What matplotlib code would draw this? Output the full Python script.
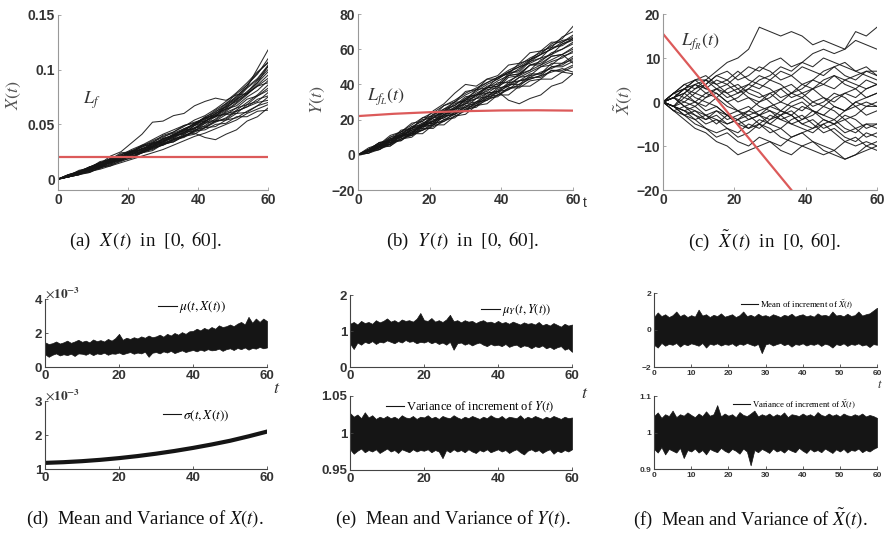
import matplotlib
matplotlib.use("Agg")
import matplotlib.pyplot as plt

plt.rcParams["mathtext.fontset"] = "stix"

# time grids
t_path = [0, 3, 6, 9, 12, 15, 18, 21, 24, 27, 30, 33, 36, 39, 42, 45, 48, 51, 54, 57, 60]
t_band = list(range(0, 61))
t_sigma = [0, 5, 10, 15, 20, 25, 30, 35, 40, 45, 50, 55, 60]

# (a) sample paths of X(t), in units of 1e-3
paths_x = [
    [0, 3, 5, 10, 12, 17, 20, 25, 27, 33, 36, 41, 45, 51, 56, 63, 69, 78, 86, 97, 107],
    [0, 4, 6, 10, 15, 16, 21, 24, 30, 32, 37, 40, 46, 50, 57, 61, 69, 75, 86, 96, 110],
    [0, 2, 6, 8, 11, 16, 18, 24, 25, 31, 33, 39, 42, 49, 54, 62, 66, 76, 84, 101, 118],
    [0, 3, 5, 10, 12, 15, 20, 22, 28, 30, 37, 40, 45, 49, 56, 59, 68, 74, 84, 92, 104],
    [0, 4, 7, 11, 15, 17, 23, 24, 30, 31, 37, 39, 45, 46, 53, 57, 67, 73, 83, 91, 103],
    [0, 3, 8, 10, 16, 18, 24, 25, 31, 33, 40, 43, 49, 51, 56, 58, 64, 67, 75, 81, 90],
    [0, 3, 6, 11, 14, 21, 25, 33, 41, 52, 53, 58, 60, 67, 71, 74, 72, 77, 78, 85, 88],
    [0, 2, 6, 7, 12, 13, 19, 20, 25, 27, 32, 34, 40, 42, 38, 36, 41, 45, 53, 57, 65],
    [0, 3, 5, 9, 10, 16, 17, 23, 25, 30, 32, 37, 39, 45, 47, 53, 54, 60, 61, 67, 70],
    [0, 2, 5, 6, 11, 12, 17, 19, 24, 26, 32, 34, 39, 41, 47, 48, 54, 56, 62, 67, 75],
    [0, 3, 7, 8, 14, 15, 21, 23, 28, 29, 35, 37, 43, 44, 51, 53, 59, 60, 68, 71, 79],
    [0, 2, 4, 9, 11, 16, 17, 23, 24, 29, 31, 36, 38, 44, 45, 50, 51, 57, 57, 62, 63],
    [0, 4, 6, 11, 13, 19, 20, 25, 26, 32, 34, 40, 42, 49, 52, 60, 64, 73, 79, 90, 100],
    [0, 3, 7, 8, 13, 14, 20, 22, 28, 30, 36, 38, 44, 46, 52, 54, 61, 65, 73, 76, 83],
    [0, 2, 4, 9, 11, 17, 19, 25, 26, 32, 34, 40, 41, 47, 48, 53, 55, 62, 66, 73, 76],
    [0, 3, 6, 11, 12, 18, 20, 26, 27, 33, 35, 41, 44, 51, 53, 58, 59, 65, 68, 76, 81],
    [0, 2, 5, 7, 10, 14, 17, 21, 24, 28, 31, 35, 39, 44, 49, 55, 62, 69, 77, 86, 95],
    [0, 3, 5, 8, 12, 15, 18, 22, 26, 29, 34, 38, 43, 47, 53, 58, 65, 72, 80, 88, 98],
    [0, 4, 7, 10, 14, 19, 22, 26, 30, 35, 39, 42, 46, 50, 55, 60, 66, 71, 78, 85, 92],
    [0, 2, 4, 7, 9, 12, 15, 18, 21, 24, 27, 31, 35, 39, 42, 46, 50, 54, 60, 64, 68],
    [0, 3, 6, 9, 13, 17, 21, 25, 29, 34, 38, 43, 48, 54, 58, 64, 71, 79, 88, 98, 106],
    [0, 2, 5, 9, 12, 15, 18, 21, 25, 29, 33, 36, 40, 43, 47, 52, 56, 63, 70, 77, 86],
    [0, 3, 7, 11, 15, 18, 22, 27, 31, 36, 41, 45, 49, 52, 55, 57, 60, 62, 66, 70, 72],
    [0, 2, 4, 6, 10, 13, 16, 20, 24, 28, 32, 36, 41, 46, 51, 57, 63, 70, 78, 88, 103],
]
level_x = 0.02

# (b) sample paths of Y(t)
paths_y = [
    [0, 3, 7, 8, 13, 15, 20, 21, 26, 28, 33, 34, 39, 40, 46, 48, 54, 57, 63, 66, 73],
    [0, 2, 5, 9, 10, 15, 17, 22, 24, 29, 31, 37, 38, 44, 46, 52, 54, 59, 61, 67, 70],
    [0, 4, 6, 11, 13, 18, 19, 25, 29, 35, 40, 39, 43, 43, 47, 47, 53, 55, 61, 62, 66],
    [0, 3, 4, 9, 10, 15, 16, 21, 22, 27, 29, 34, 36, 41, 41, 46, 48, 54, 57, 63, 65],
    [0, 2, 5, 6, 11, 12, 17, 18, 23, 25, 30, 32, 37, 38, 44, 45, 51, 53, 58, 60, 64],
    [0, 3, 5, 10, 11, 16, 17, 23, 25, 30, 30, 34, 35, 36, 31, 29, 32, 34, 39, 41, 46],
    [0, 2, 6, 6, 11, 12, 18, 19, 25, 26, 32, 34, 38, 39, 45, 46, 51, 51, 56, 57, 60],
    [0, 3, 4, 9, 10, 14, 15, 20, 21, 26, 27, 32, 33, 38, 39, 44, 45, 50, 51, 56, 58],
    [0, 1, 5, 5, 10, 11, 16, 17, 22, 23, 28, 29, 34, 35, 40, 40, 45, 46, 52, 52, 56],
    [0, 2, 3, 8, 8, 13, 14, 18, 19, 24, 25, 30, 31, 36, 37, 42, 43, 45, 50, 51, 55],
    [0, 3, 7, 7, 12, 13, 17, 18, 23, 24, 29, 30, 35, 36, 41, 42, 46, 46, 50, 50, 53],
    [0, 2, 6, 7, 11, 11, 16, 17, 22, 23, 27, 28, 33, 34, 38, 38, 42, 43, 48, 48, 51],
    [0, 1, 4, 5, 9, 10, 15, 15, 20, 21, 26, 27, 32, 33, 38, 39, 44, 44, 48, 47, 50],
    [0, 2, 3, 7, 8, 12, 12, 17, 17, 22, 23, 28, 29, 34, 34, 39, 39, 43, 43, 47, 46],
    [0, 3, 7, 8, 14, 15, 21, 22, 28, 30, 36, 37, 43, 45, 51, 52, 58, 59, 64, 64, 67],
    [0, 2, 5, 6, 11, 12, 17, 19, 24, 26, 31, 33, 38, 39, 45, 46, 51, 52, 56, 57, 61],
    [0, 2, 4, 8, 11, 14, 17, 21, 24, 27, 31, 35, 38, 42, 45, 49, 53, 57, 60, 64, 68],
    [0, 3, 6, 9, 12, 16, 19, 23, 26, 30, 34, 37, 41, 44, 48, 51, 55, 58, 62, 65, 66],
    [0, 1, 3, 6, 9, 12, 14, 17, 20, 23, 26, 29, 32, 36, 39, 42, 44, 47, 49, 52, 54],
    [0, 2, 5, 7, 10, 13, 16, 19, 21, 24, 27, 30, 33, 37, 40, 44, 47, 50, 53, 55, 59],
    [0, 3, 6, 10, 13, 17, 21, 24, 28, 31, 35, 38, 41, 44, 47, 50, 52, 55, 57, 60, 63],
    [0, 2, 4, 6, 9, 11, 14, 16, 19, 22, 25, 28, 31, 34, 37, 40, 43, 45, 47, 49, 47],
    [0, 3, 5, 8, 12, 15, 18, 21, 25, 28, 32, 36, 40, 43, 47, 50, 54, 57, 60, 63, 66],
    [0, 2, 5, 8, 11, 14, 16, 19, 23, 26, 29, 32, 35, 39, 42, 45, 48, 51, 54, 57, 52],
]
t_level_y = [0, 10, 20, 30, 40, 50, 60]
level_y = [22.0, 23.3, 24.2, 24.8, 25.2, 25.3, 25.1]

# (c) sample paths of X~(t)
paths_xt = [
    [0, 1, 3, 5, 5, 7, 9, 10, 12, 17, 16, 15, 16, 15, 13, 14, 13, 12, 16, 15, 17],
    [0, -1, 2, 4, 3, 5, 4, 6, 8, 7, 9, 10, 8, 9, 11, 12, 11, 12, 14, 13, 12],
    [0, -2, -4, -6, -7, -9, -10, -12, -11, -10, -9, -11, -12, -10, -9, -11, -12, -13, -12, -11, -10],
    [0, 2, 4, 5, 3, 2, 0, -2, -3, -2, -1, 0, 2, 1, 3, 4, 6, 5, 6, 7, 6],
    [0, -1, -3, -4, -6, -7, -6, -8, -7, -5, -6, -8, -9, -10, -11, -12, -11, -13, -12, -10, -11],
    [0, 1, 2, 4, 5, 3, 4, 2, 3, 5, 6, 8, 7, 9, 8, 10, 9, 8, 7, 6, 5],
    [0, 1, -1, -2, -3, -4, -5, -4, -6, -5, -3, -4, -5, -6, -7, -5, -4, -6, -7, -5, -6],
    [0, -1, 0, 2, 1, 3, 2, 0, 1, -1, -2, -3, -1, 0, -2, -3, -4, -2, -1, -3, -2],
    [0, 2, 3, 1, 0, -1, -3, -5, -4, -3, -5, -6, -4, -3, -5, -7, -6, -8, -9, -7, -8],
    [0, 1, 3, 2, 4, 6, 5, 7, 5, 4, 3, 1, 2, 4, 3, 1, 0, 2, 1, 3, 4],
    [0, -1, -2, -1, -3, -2, -4, -3, -2, 0, 1, 3, 4, 2, 3, 5, 6, 4, 3, 5, 4],
    [0, 1, 0, -1, 1, 2, 0, 1, 3, 2, 0, -2, -3, -1, -2, -4, -5, -3, -4, -6, -5],
    [0, -2, -1, -3, -4, -2, -3, -5, -6, -4, -5, -3, -2, -4, -3, -1, -2, -4, -3, -1, -1],
    [0, 2, 1, 3, 4, 6, 7, 5, 6, 8, 7, 5, 6, 4, 5, 7, 8, 6, 5, 7, 7],
    [0, -1, -3, -2, -4, -3, -5, -4, -3, -5, -7, -6, -8, -7, -6, -5, -7, -9, -10, -9, -10],
    [0, 1, 2, 0, -1, 1, 3, 4, 2, 1, 2, 0, -1, -2, 0, 1, -1, -2, 0, 1, 2],
    [0, 1, 3, 4, 2, 3, 1, 2, 4, 3, 5, 4, 2, 3, 5, 4, 3, 5, 4, 3, 4],
    [0, -1, -2, -4, -3, -5, -3, -4, -2, -3, -4, -2, -3, -5, -4, -6, -5, -4, -6, -5, -5],
    [0, 2, 3, 5, 6, 4, 5, 3, 4, 6, 5, 7, 6, 8, 7, 6, 8, 9, 7, 8, 6],
    [0, -1, -2, -3, -5, -4, -6, -7, -5, -6, -4, -3, -5, -4, -2, -3, -1, -2, 0, -1, 0],
    [0, 1, -1, 0, 2, 1, -1, -2, -1, -3, -2, -4, -3, -5, -6, -4, -5, -7, -6, -8, -7],
    [0, -2, -3, -5, -6, -8, -7, -9, -10, -8, -9, -10, -8, -7, -9, -10, -11, -9, -8, -10, -9],
    [0, 2, 4, 3, 5, 4, 2, 3, 1, 0, 2, 3, 1, 2, 0, -1, 1, 2, 3, 1, 2],
    [0, -1, 1, 0, -2, -1, -3, -2, -4, -3, -1, -2, 0, 1, -1, 0, 2, 1, -1, 0, -1],
]
t_level_xt = [0, 36]
level_xt = [15.5, -20.0]

# (d) mean band (1e-3) and variance curve (1e-3) of X(t)
d_mu_hi = [1.45, 1.35, 1.40, 1.50, 1.38, 1.45, 1.55, 1.42, 1.50, 1.60,
           1.48, 1.55, 1.45, 1.62, 1.52, 1.58, 1.50, 1.65, 1.55, 1.70,
           1.95, 1.60, 1.72, 1.65, 1.75, 1.68, 1.80, 1.72, 1.85, 1.75,
           1.80, 1.90, 1.78, 1.95, 1.85, 2.00, 1.90, 2.05, 1.95, 2.10,
           2.12, 2.25, 2.15, 2.30, 2.20, 2.35, 2.25, 2.45, 2.35, 2.40,
           2.50, 2.40, 2.55, 2.65, 2.50, 2.95, 2.60, 2.85, 2.65, 2.85,
           2.70]
d_mu_lo = [0.75, 0.60, 0.72, 0.80, 0.68, 0.75, 0.70, 0.78, 0.65, 0.80,
           0.78, 0.72, 0.82, 0.70, 0.80, 0.76, 0.84, 0.72, 0.80, 0.78,
           0.85, 0.75, 0.82, 0.88, 0.78, 0.85, 0.80, 0.90, 0.60, 0.84,
           0.88, 0.80, 0.92, 0.85, 0.95, 0.82, 0.90, 0.98, 0.88, 0.95,
           1.00, 0.92, 1.02, 0.95, 1.05, 0.98, 1.00, 1.08, 0.95, 1.05,
           1.10, 1.00, 1.12, 1.05, 1.15, 1.02, 1.12, 1.08, 1.18, 1.10,
           1.15]
d_sigma = [1.18, 1.20, 1.23, 1.27, 1.32, 1.38, 1.45, 1.53, 1.62, 1.72, 1.83, 1.96, 2.10]

# (e) mean and variance of increments of Y(t)
e_mu_hi = [1.20, 1.25, 1.18, 1.28, 1.22, 1.25, 1.20, 1.30, 1.24, 1.28,
           1.35, 1.26, 1.30, 1.24, 1.32, 1.28, 1.30, 1.26, 1.34, 1.50,
           1.30, 1.28, 1.36, 1.26, 1.30, 1.25, 1.32, 1.45, 1.27, 1.30,
           1.24, 1.30, 1.26, 1.28, 1.22, 1.27, 1.30, 1.24, 1.26, 1.22,
           1.28, 1.22, 1.25, 1.20, 1.26, 1.22, 1.18, 1.24, 1.20, 1.22,
           1.18, 1.25, 1.16, 1.20, 1.15, 1.22, 1.17, 1.12, 1.20, 1.15,
           1.18]
e_mu_lo = [0.65, 0.50, 0.68, 0.62, 0.70, 0.66, 0.72, 0.64, 0.70, 0.68,
           0.74, 0.70, 0.66, 0.72, 0.68, 0.75, 0.70, 0.72, 0.66, 0.70,
           0.68, 0.72, 0.66, 0.70, 0.64, 0.68, 0.62, 0.70, 0.48, 0.66,
           0.68, 0.62, 0.66, 0.60, 0.65, 0.68, 0.62, 0.58, 0.64, 0.60,
           0.62, 0.58, 0.64, 0.56, 0.60, 0.62, 0.55, 0.60, 0.58, 0.52,
           0.58, 0.55, 0.60, 0.52, 0.56, 0.50, 0.55, 0.58, 0.48, 0.52,
           0.42]
e_var_hi = [1.027, 1.022, 1.025, 1.020, 1.028, 1.021, 1.024, 1.019, 1.022, 1.020,
            1.023, 1.020, 1.022, 1.019, 1.024, 1.021, 1.020, 1.023, 1.019, 1.022,
            1.021, 1.024, 1.020, 1.022, 1.019, 1.023, 1.021, 1.020, 1.024, 1.021,
            1.019, 1.022, 1.020, 1.023, 1.021, 1.019, 1.022, 1.020, 1.024, 1.021,
            1.020, 1.023, 1.019, 1.022, 1.021, 1.020, 1.024, 1.019, 1.022, 1.020,
            1.023, 1.021, 1.019, 1.022, 1.020, 1.023, 1.021, 1.019, 1.022, 1.020,
            1.021]
e_var_lo = [0.978, 0.972, 0.976, 0.979, 0.974, 0.977, 0.975, 0.978, 0.973, 0.976,
            0.979, 0.975, 0.977, 0.973, 0.978, 0.976, 0.974, 0.978, 0.975, 0.977,
            0.976, 0.978, 0.974, 0.977, 0.975, 0.966, 0.977, 0.974, 0.978, 0.975,
            0.977, 0.974, 0.978, 0.975, 0.973, 0.977, 0.975, 0.978, 0.974, 0.976,
            0.978, 0.975, 0.977, 0.973, 0.976, 0.978, 0.974, 0.971, 0.976, 0.978,
            0.975, 0.977, 0.973, 0.976, 0.978, 0.972, 0.976, 0.974, 0.977, 0.975,
            0.978]

# (f) mean and variance of increments of X~(t)
f_mu_hi = [0.70, 0.95, 0.75, 0.85, 0.70, 0.80, 1.00, 0.75, 0.85, 0.70,
           0.80, 0.72, 1.10, 0.78, 0.85, 0.70, 0.82, 0.75, 0.90, 0.72,
           0.78, 0.85, 0.70, 0.80, 1.00, 0.75, 0.82, 0.72, 0.88, 0.76,
           0.80, 0.72, 0.85, 0.78, 0.70, 0.82, 0.76, 0.88, 0.72, 0.80,
           0.85, 0.74, 0.80, 0.72, 0.90, 0.78, 0.82, 0.75, 1.00, 0.78,
           0.82, 0.74, 0.88, 0.76, 0.80, 1.00, 0.78, 0.85, 0.90, 1.05,
           1.20]
f_mu_lo = [-0.80, -0.95, -0.70, -0.85, -0.75, -0.80, -0.70, -0.90, -0.75, -0.82,
           -0.72, -0.78, -0.85, -0.70, -0.95, -0.74, -0.80, -0.72, -0.84, -0.76,
           -0.80, -0.72, -0.86, -0.74, -0.80, -0.70, -0.78, -0.85, -0.75, -1.25,
           -0.78, -0.72, -0.84, -0.76, -0.70, -0.82, -0.74, -0.90, -0.76, -0.80,
           -0.72, -0.84, -0.76, -0.80, -0.72, -0.86, -0.74, -0.80, -0.95, -0.76,
           -0.82, -0.72, -0.86, -0.76, -0.80, -0.72, -0.84, -0.78, -0.92, -0.76,
           -0.80]
f_var_hi = [1.045, 1.055, 1.040, 1.050, 1.045, 1.060, 1.042, 1.050, 1.046, 1.055,
            1.048, 1.042, 1.052, 1.045, 1.058, 1.046, 1.050, 1.075, 1.044, 1.052,
            1.046, 1.050, 1.042, 1.056, 1.048, 1.045, 1.052, 1.060, 1.044, 1.050,
            1.046, 1.052, 1.044, 1.050, 1.046, 1.055, 1.042, 1.050, 1.048, 1.045,
            1.052, 1.046, 1.050, 1.044, 1.056, 1.048, 1.045, 1.052, 1.046, 1.050,
            1.044, 1.052, 1.047, 1.045, 1.050, 1.046, 1.052, 1.044, 1.048, 1.045,
            1.040]
f_var_lo = [0.955, 0.945, 0.960, 0.940, 0.955, 0.950, 0.945, 0.958, 0.930, 0.952,
            0.948, 0.956, 0.945, 0.952, 0.940, 0.955, 0.950, 0.946, 0.958, 0.950,
            0.945, 0.955, 0.950, 0.942, 0.956, 0.948, 0.910, 0.952, 0.946, 0.955,
            0.950, 0.944, 0.956, 0.948, 0.952, 0.945, 0.955, 0.950, 0.946, 0.958,
            0.950, 0.944, 0.955, 0.948, 0.952, 0.946, 0.956, 0.950, 0.944, 0.954,
            0.948, 0.955, 0.945, 0.952, 0.950, 0.956, 0.946, 0.952, 0.948, 0.955,
            0.960]

W, H = 888, 534
fig = plt.figure(figsize=(W / 100, H / 100), dpi=100)

SANS = "Liberation Sans"
SERIF = "Liberation Serif"
RED = "#dc5a5a"
INK = "#151515"


def px_axes(l, t, r, b):
    return fig.add_axes([l / W, 1 - b / H, (r - l) / W, (b - t) / H])


def style(ax, size, spine_col, tick_col):
    for s in ("top", "right"):
        ax.spines[s].set_visible(False)
    for s in ("left", "bottom"):
        ax.spines[s].set_color(spine_col)
        ax.spines[s].set_linewidth(0.8)
    ax.tick_params(direction="in", length=2.5, width=0.6, color=spine_col,
                   labelsize=size, labelcolor=tick_col, pad=2)
    for lab in ax.get_xticklabels() + ax.get_yticklabels():
        lab.set_fontfamily(SANS)
        lab.set_fontweight("bold")


def path_panel(ax, paths, scale):
    for p in paths:
        ax.plot(t_path, [v * scale for v in p], color=INK, lw=0.75, alpha=0.9)


# ---- top row: sample paths ----
ax_a = px_axes(58, 15, 268, 190)
path_panel(ax_a, paths_x, 1e-3)
ax_a.axhline(level_x, color=RED, lw=1.6)
ax_a.set_xlim(0, 60)
ax_a.set_ylim(-0.01, 0.15)
ax_a.set_xticks([0, 20, 40, 60])
ax_a.set_yticks([0, 0.05, 0.1, 0.15])
ax_a.set_yticklabels(["0", "0.05", "0.1", "0.15"])
style(ax_a, 10, "#999999", "#333333")
ax_a.text(7, 0.072, r"$L_f$", fontsize=13, color="#333333", va="center")

ax_b = px_axes(358, 14, 573, 190)
path_panel(ax_b, paths_y, 1)
ax_b.plot(t_level_y, level_y, color=RED, lw=1.6)
ax_b.set_xlim(0, 60)
ax_b.set_ylim(-20, 80)
ax_b.set_xticks([0, 20, 40, 60])
ax_b.set_yticks([-20, 0, 20, 40, 60, 80])
style(ax_b, 10, "#999999", "#333333")
ax_b.text(2.5, 32.5, r"$L_{f_L}(t)$", fontsize=13, color="#333333", va="center")

ax_c = px_axes(663, 14, 877, 190)
path_panel(ax_c, paths_xt, 1)
ax_c.plot(t_level_xt, level_xt, color=RED, lw=1.6)
ax_c.set_xlim(0, 60)
ax_c.set_ylim(-20, 20)
ax_c.set_xticks([0, 20, 40, 60])
ax_c.set_yticks([-20, -10, 0, 10, 20])
style(ax_c, 10, "#999999", "#333333")
ax_c.text(5, 13.5, r"$L_{f_R}(t)$", fontsize=13, color="#333333", va="center")

ylab = dict(rotation=90, fontsize=13, color="#555555", ha="center", va="center")
fig.text(14 / W, 1 - 95 / H, r"$X(t)$", **ylab)
fig.text(318 / W, 1 - 100 / H, r"$Y(t)$", **ylab)
fig.text(623 / W, 1 - 100 / H, r"$\tilde{X}(t)$", **ylab)
fig.text(585 / W, 1 - 203 / H, "t", fontsize=10, family=SANS, color="#333333", ha="center", va="center")


# ---- bottom row: mean and variance ----
def band(ax, hi, lo):
    ax.fill_between(t_band, lo, hi, facecolor=INK, edgecolor=INK, lw=0.5)


def legend(ax, label, x, y, size, hl):
    ax.legend([plt.Line2D([], [], color=INK, lw=0.8)], [label], loc="center left",
              bbox_to_anchor=(x, y), frameon=False, handlelength=hl,
              handletextpad=0.15, borderpad=0, borderaxespad=0,
              prop={"family": SERIF, "size": size})


ax_d1 = px_axes(45, 299, 267, 367)
band(ax_d1, d_mu_hi, d_mu_lo)
ax_d1.set_xlim(0, 60)
ax_d1.set_ylim(0, 4)
ax_d1.set_xticks([0, 20, 40, 60])
ax_d1.set_yticks([0, 2, 4])
style(ax_d1, 9.5, "#444444", "#333333")
legend(ax_d1, r"$\mu(t,X(t))$", 0.51, 0.88, 9.5, 1.4)
ax_d1.text(0.0, 1.02, r"$\times\mathbf{10^{-3}}$", transform=ax_d1.transAxes, fontsize=9.5, color="#333333")
fig.text(277 / W, 1 - 388 / H, r"$t$", fontsize=13, color="#333333", ha="center", va="center")

ax_d2 = px_axes(45, 401, 267, 469)
ax_d2.plot(t_sigma, d_sigma, color=INK, lw=3.0)
ax_d2.set_xlim(0, 60)
ax_d2.set_ylim(1, 3)
ax_d2.set_xticks([0, 20, 40, 60])
ax_d2.set_yticks([1, 2, 3])
style(ax_d2, 9.5, "#444444", "#333333")
legend(ax_d2, r"$\sigma(t,X(t))$", 0.53, 0.79, 9.5, 1.4)
ax_d2.text(0.0, 1.02, r"$\times\mathbf{10^{-3}}$", transform=ax_d2.transAxes, fontsize=9.5, color="#333333")

ax_e1 = px_axes(350, 295, 572, 367)
band(ax_e1, e_mu_hi, e_mu_lo)
ax_e1.set_xlim(0, 60)
ax_e1.set_ylim(0, 2)
ax_e1.set_xticks([0, 20, 40, 60])
ax_e1.set_yticks([0, 1, 2])
style(ax_e1, 9.5, "#444444", "#333333")
legend(ax_e1, r"$\mu_Y(t,Y(t))$", 0.59, 0.79, 9, 1.5)
fig.text(585 / W, 1 - 393 / H, r"$t$", fontsize=13, color="#333333", ha="center", va="center")

ax_e2 = px_axes(350, 396, 572, 470)
band(ax_e2, e_var_hi, e_var_lo)
ax_e2.set_xlim(0, 60)
ax_e2.set_ylim(0.95, 1.05)
ax_e2.set_xticks([0, 20, 40, 60])
ax_e2.set_yticks([0.95, 1, 1.05])
ax_e2.set_yticklabels(["0.95", "1", "1.05"])
style(ax_e2, 9.5, "#444444", "#333333")
legend(ax_e2, r"Variance of increment of $Y(t)$", 0.16, 0.85, 9, 1.5)

ax_f1 = px_axes(654, 293, 877, 367)
band(ax_f1, f_mu_hi, f_mu_lo)
ax_f1.set_xlim(0, 60)
ax_f1.set_ylim(-2, 2)
ax_f1.set_xticks([0, 10, 20, 30, 40, 50, 60])
ax_f1.set_yticks([-2, 0, 2])
style(ax_f1, 6, "#444444", "#333333")
legend(ax_f1, r"Mean of increment of $\tilde{X}(t)$", 0.39, 0.85, 6.3, 2.0)
fig.text(880 / W, 1 - 385 / H, r"$t$", fontsize=9, color="#333333", ha="center", va="center")

ax_f2 = px_axes(654, 396, 877, 469)
band(ax_f2, f_var_hi, f_var_lo)
ax_f2.set_xlim(0, 60)
ax_f2.set_ylim(0.9, 1.1)
ax_f2.set_xticks([0, 10, 20, 30, 40, 50, 60])
ax_f2.set_yticks([0.9, 1, 1.1])
ax_f2.set_yticklabels(["0.9", "1", "1.1"])
style(ax_f2, 6, "#444444", "#333333")
legend(ax_f2, r"Variance of increment of $\tilde{X}(t)$", 0.355, 0.89, 6.2, 2.0)

# ---- captions ----
cap = dict(fontsize=13.5, family=SERIF, color="#111111", ha="center", va="center")
fig.text(145 / W, 1 - 241 / H, r"(a)  $X\,(t)$  in  $[0,\ 60]$.", **cap)
fig.text(462 / W, 1 - 241 / H, r"(b)  $Y\,(t)$  in  $[0,\ 60]$.", **cap)
fig.text(764 / W, 1 - 241 / H, r"(c)  $\tilde{X}\,(t)$  in  $[0,\ 60]$.", **cap)
fig.text(145 / W, 1 - 519 / H, r"(d)  Mean and Variance of $X(t)$.", **cap)
fig.text(453 / W, 1 - 519 / H, r"(e)  Mean and Variance of $Y(t)$.", **cap)
fig.text(750 / W, 1 - 519 / H, r"(f)  Mean and Variance of $\tilde{X}(t)$.", **cap)

fig.savefig("out.png", dpi=100)
